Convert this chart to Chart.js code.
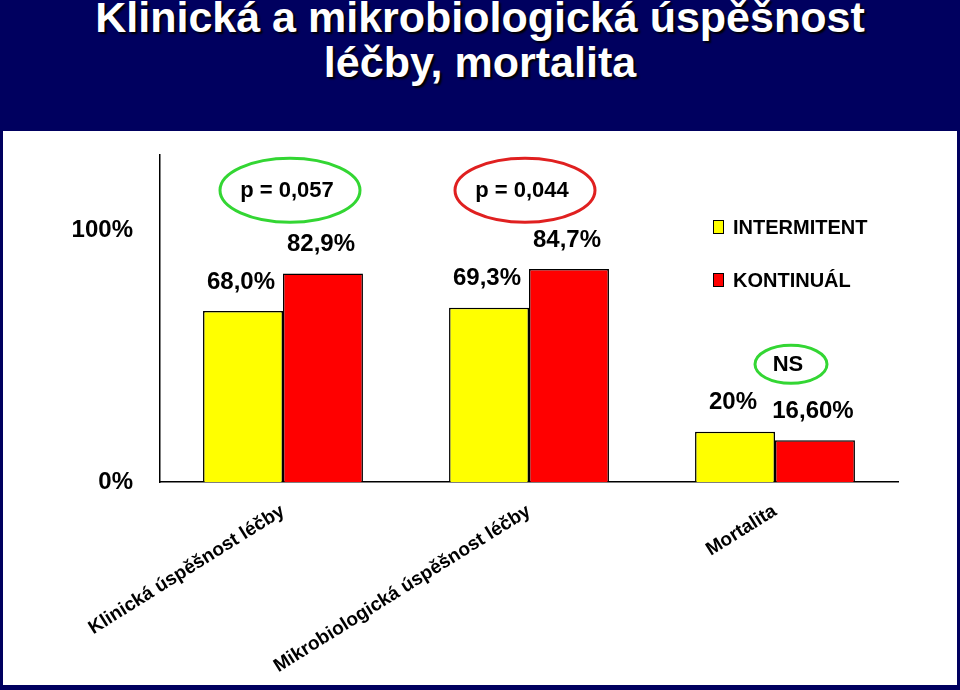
<!DOCTYPE html>
<html>
<head>
<meta charset="utf-8">
<script src="https://cdn.jsdelivr.net/npm/chart.js@4"></script>
<style>
  body { margin: 0; width: 960px; height: 690px; overflow: hidden; position: relative;
         background: #00005f; font-family: "Liberation Sans", Arial, sans-serif; }
  #title { position: absolute; left: 0; top: -5px; width: 960px; text-align: center; color: #fff;
           font-weight: bold; font-size: 43px; line-height: 45px; text-shadow: 2px 2px 2px #000; }
  #panel { position: absolute; left: 3px; top: 131px; width: 954px; height: 554px; background: #fff; }
</style>
</head>
<body>
<div id="title">Klinická a mikrobiologická úspěšnost<br>léčby, mortalita</div>
<div id="panel"><canvas id="chart" width="954" height="554"></canvas></div>
<script>
const categories = ['Klinická úspěšnost léčby', 'Mikrobiologická úspěšnost léčby', 'Mortalita'];
const intermitent = [68.0, 69.3, 20.0];
const kontinual = [82.9, 84.7, 16.6];
const intermitentLabels = ['68,0%', '69,3%', '20%'];
const kontinualLabels = ['82,9%', '84,7%', '16,60%'];
const yTicks = [0, 100];
const pLabels = ['p = 0,057', 'p = 0,044', 'NS'];

const FONT = '"Liberation Sans", Arial, sans-serif';

// value labels above each bar
const valueLabels = {
  id: 'valueLabels',
  afterDatasetsDraw(chart) {
    const ctx = chart.ctx;
    ctx.save();
    ctx.font = 'bold 24px ' + FONT;
    ctx.fillStyle = '#000';
    ctx.textAlign = 'center';
    ctx.textBaseline = 'middle';
    chart.data.datasets.forEach((ds, i) => {
      chart.getDatasetMeta(i).data.forEach((bar, j) => {
        ctx.fillText(ds.valueText[j], bar.x - 2, bar.y - 29);
      });
    });
    ctx.restore();
  }
};

// p-value ellipses
const pMarks = {
  id: 'pMarks',
  afterDraw(chart, args, opts) {
    const ctx = chart.ctx;
    const xs = chart.scales.x, ys = chart.scales.y;
    ctx.save();
    opts.items.forEach((it, i) => {
      const cx = xs.getPixelForValue(i) + it.dx;
      const cy = ys.getPixelForValue(it.y);
      ctx.beginPath();
      ctx.ellipse(cx, cy, it.rx, it.ry, 0, 0, Math.PI * 2);
      ctx.lineWidth = 3;
      ctx.strokeStyle = it.color;
      ctx.stroke();
      ctx.font = 'bold 22px ' + FONT;
      ctx.fillStyle = '#000';
      ctx.textAlign = 'center';
      ctx.textBaseline = 'middle';
      ctx.fillText(pLabels[i], cx - 3, cy + 1);
    });
    ctx.restore();
  }
};

// legend drawn in the upper right
const boxLegend = {
  id: 'boxLegend',
  afterDraw(chart, args, opts) {
    const ctx = chart.ctx;
    ctx.save();
    ctx.font = 'bold 20px ' + FONT;
    ctx.textBaseline = 'middle';
    chart.data.datasets.forEach((ds, i) => {
      const y = opts.y + i * opts.gap;
      ctx.fillStyle = ds.backgroundColor;
      ctx.fillRect(opts.x, y - 7, 11, 14);
      ctx.lineWidth = 1;
      ctx.strokeStyle = '#000';
      ctx.strokeRect(opts.x + 0.5, y - 6.5, 10, 13);
      ctx.fillStyle = '#000';
      ctx.fillText(ds.label, opts.x + 20, y + 1);
    });
    ctx.restore();
  }
};

new Chart(document.getElementById('chart'), {
  type: 'bar',
  data: {
    labels: categories,
    datasets: [
      { label: 'INTERMITENT', data: intermitent, valueText: intermitentLabels,
        backgroundColor: '#ffff00', borderColor: '#000', borderWidth: 1.5 },
      { label: 'KONTINUÁL', data: kontinual, valueText: kontinualLabels,
        backgroundColor: '#ff0000', borderColor: '#000', borderWidth: 1.5 }
    ]
  },
  options: {
    responsive: false,
    animation: false,
    layout: { padding: { top: 24, right: 59, left: 0, bottom: 0 } },
    datasets: { bar: { categoryPercentage: 0.65, barPercentage: 1.0 } },
    scales: {
      x: {
        grid: { display: false, drawTicks: false },
        border: { display: true, color: '#000', width: 1.5 },
        ticks: {
          color: '#000', font: { family: FONT, size: 19, weight: 'bold' },
          minRotation: 32, maxRotation: 32, autoSkip: false, padding: 18
        },
        afterFit(scale) { scale.height = 203; }
      },
      y: {
        min: 0, max: 130,
        grid: { display: false, drawTicks: false },
        border: { display: true, color: '#000', width: 1.5 },
        ticks: {
          color: '#000', font: { family: FONT, size: 24, weight: 'bold' },
          padding: 27, callback: v => v + '%'
        },
        afterBuildTicks(scale) { scale.ticks = yTicks.map(v => ({ value: v })); },
        afterFit(scale) {
          scale.width = 157;
          scale.paddingTop = 0;
          scale.paddingBottom = 0;
        }
      }
    },
    plugins: {
      legend: { display: false },
      tooltip: { enabled: false },
      pMarks: {
        items: [
          { dx: 7, y: 116, rx: 70, ry: 32, color: '#33d633' },
          { dx: -4, y: 116, rx: 70, ry: 32, color: '#e02020' },
          { dx: 16, y: 46.8, rx: 36, ry: 19, color: '#33d633' }
        ]
      },
      boxLegend: { x: 710, y: 96, gap: 53 }
    }
  },
  plugins: [valueLabels, pMarks, boxLegend]
});
</script>
</body>
</html>
